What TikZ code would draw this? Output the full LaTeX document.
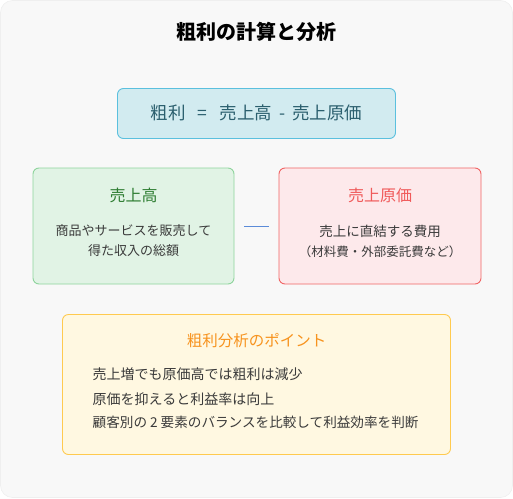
\documentclass[tikz,border=0pt]{standalone}
\usepackage{fontspec}
\setmainfont{Noto Sans CJK JP}
\definecolor{bgc}{HTML}{F8F8F8}
\definecolor{bgb}{HTML}{EFEFEF}
\definecolor{fcfill}{HTML}{D2EBF0}
\definecolor{fcdraw}{HTML}{5BC0DE}
\definecolor{fctext}{HTML}{2B5F6E}
\definecolor{gfill}{HTML}{E1F3E5}
\definecolor{gdraw}{HTML}{8ED49C}
\definecolor{gtext}{HTML}{2E7D32}
\definecolor{rfill}{HTML}{FDE9EB}
\definecolor{rdraw}{HTML}{F06464}
\definecolor{rtext}{HTML}{F05A5A}
\definecolor{yfill}{HTML}{FFF8E1}
\definecolor{ydraw}{HTML}{FFCA4F}
\definecolor{ytext}{HTML}{F7931E}
\definecolor{bodyc}{HTML}{3A3A3A}
\definecolor{linkc}{HTML}{5B8BD8}
\tikzset{
  x=1pt, y=-1pt,
  panel/.style={rounded corners=6pt, line width=0.9pt},
  lbl/.style={inner sep=0pt, anchor=center},
  body/.style={inner sep=0pt, text=bodyc, font=\fontsize{13}{16}\selectfont},
  head/.style={lbl, font=\fontsize{16}{19}\selectfont},
}
\begin{document}
\begin{tikzpicture}
\useasboundingbox (0,0) rectangle (513,498);
\draw[fill=bgc, draw=bgb, rounded corners=12pt, line width=0.6pt] (0.5,0.5) rectangle (512.5,497.5);
\node[lbl, font=\bfseries\fontsize{20}{24}\selectfont] (title) at (256.5,32) {粗利の計算と分析};
% formula
\draw[panel, fill=fcfill, draw=fcdraw] (117.5,88.5) rectangle (395.5,138.5);
\node[lbl, text=fctext, font=\fontsize{17.5}{21}\selectfont] (formula) at (256.5,113) {粗利\hspace{12pt}=\hspace{12pt}売上高\hspace{7pt}-\hspace{7pt}売上原価};
% left
\node[panel, fill=gfill, draw=gdraw, minimum width=201pt, minimum height=116pt, inner sep=0pt] (left) at (133.5,226) {};
\node[head, text=gtext] (lt) at (133.5,195.5) {売上高};
\node[body] (l1) at (133.5,231) {商品やサービスを販売して};
\node[body] (l2) at (133.5,251) {得た収入の総額};
% right
\node[panel, fill=rfill, draw=rdraw, minimum width=202pt, minimum height=116pt, inner sep=0pt] (right) at (380,226) {};
\node[head, text=rtext] (rt) at (380,195.5) {売上原価};
\node[body, font=\fontsize{13.5}{16}\selectfont] (r1) at (380,231) {売上に直結する費用};
\node[body, font=\fontsize{12.5}{14}\selectfont] (r2) at (380,251.5) {（材料費・外部委託費など）};
% connector
\draw[linkc, line width=1.7pt] ([xshift=10pt]left.east |- 0,226.5) -- ([xshift=-10pt]right.west |- 0,226.5);
% bottom
\draw[panel, fill=yfill, draw=ydraw] (62.5,314.5) rectangle (450.5,454.5);
\node[head, text=ytext, font=\fontsize{15.5}{18}\selectfont] (bt) at (256.5,341) {粗利分析のポイント};
\node[body, anchor=west, font=\fontsize{14}{16}\selectfont] (b1) at (92.5,374) {売上増でも原価高では粗利は減少};
\node[body, anchor=west, font=\fontsize{14}{16}\selectfont] (b2) at (92.5,399) {原価を抑えると利益率は向上};
\node[body, anchor=west, font=\fontsize{13.6}{16}\selectfont] (b3) at (92.5,422.5) {顧客別の 2 要素のバランスを比較して利益効率を判断};
\end{tikzpicture}
\end{document}
